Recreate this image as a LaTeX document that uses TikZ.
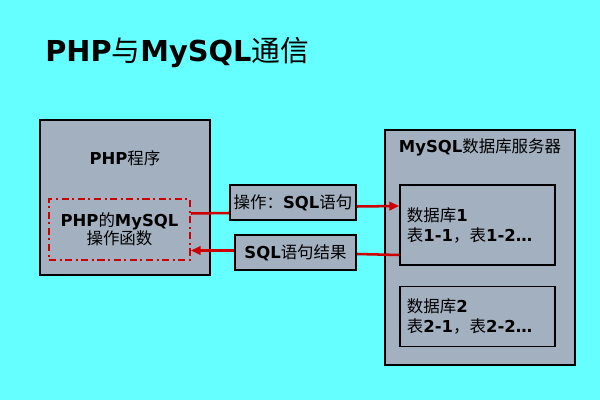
\documentclass[tikz,border=0pt]{standalone}
\usepackage{fontspec}
\setmainfont{DejaVu Sans}
\newfontfamily\cjk{Noto Sans CJK SC}
\usetikzlibrary{arrows.meta,positioning,calc}
\definecolor{bgcyan}{RGB}{102,255,255}
\definecolor{boxgray}{RGB}{162,176,192}
\definecolor{linkred}{RGB}{204,0,0}
\newcommand{\zh}[1]{{\cjk\mdseries #1}}

\begin{document}
\begin{tikzpicture}[
  x=0.025cm, y=-0.025cm,
  lbl/.style={font=\fontsize{11.7}{13}\selectfont},
  panel/.style={draw=black, line width=1.1pt, fill=boxgray},
  tag/.style={panel, lbl, minimum height=0.875cm, inner sep=2pt},
  dbbox/.style={draw=black, line width=1.1pt, minimum width=3.875cm, text width=3.525cm, inner xsep=0.175cm, align=left, font=\fontsize{11.7}{14.2}\selectfont},
  link/.style={linkred, line width=1.8pt},
  tip/.style={-{Triangle[length=7pt,width=6pt]}}
]
\fill[bgcyan] (0,0) rectangle (600,400);
\node[anchor=west, inner sep=0pt, font=\fontsize{20.5}{24}\selectfont] (title) at (45,53) {\textbf{PHP}\zh{与}\textbf{MySQL}\zh{通信}};
% PHP side
\node[panel, minimum width=4.25cm, minimum height=3.875cm] (prog) at (125,197.5) {};
\node[lbl] (progname) at (125,158) {\textbf{PHP}\zh{程序}};
\node[lbl, draw=linkred, line width=1.2pt, dash pattern=on 5pt off 2.5pt on 1.5pt off 2.5pt, minimum width=3.525cm, minimum height=1.525cm, align=center] (func) at (119.5,229.5) {\textbf{PHP}\zh{的}\textbf{MySQL}\\\zh{操作函数}};
% messages
\node[tag, minimum width=3.15cm] (query) at (293,202.5) {\zh{操作：}\textbf{SQL}\zh{语句}};
\node[tag, minimum width=3.025cm] (result) at (295.5,252.5) {\textbf{SQL}\zh{语句结果}};
% MySQL side
\node[panel, minimum width=4.75cm, minimum height=5.875cm] (server) at (480,247.5) {};
\node[lbl] (servername) at (480,147) {\textbf{MySQL}\zh{数据库服务器}};
\node[dbbox, minimum height=2cm] (dbone) at (477.5,225) {\zh{数据库}\textbf{1}\\\zh{表}\textbf{1-1}\zh{，表}\textbf{1-2…}};
\node[dbbox, minimum height=1.5cm, below=0.5cm of dbone] (dbtwo) {\zh{数据库}\textbf{2}\\\zh{表}\textbf{2-1}\zh{，表}\textbf{2-2…}};
\draw[link] ($(func.east)+(0,-16)$) -- ($(query.west)+(0,10.5)$);
\draw[link, tip] ($(query.east)+(0,4)$) -- ($(dbone.west)+(0,-19)$);
\draw[link] ($(dbone.west)+(0,30)$) -- ($(result.east)+(0,1.5)$);
\draw[link, tip] ($(result.west)+(0,-2)$) -- ($(func.east)+(0,21)$);
\end{tikzpicture}
\end{document}
